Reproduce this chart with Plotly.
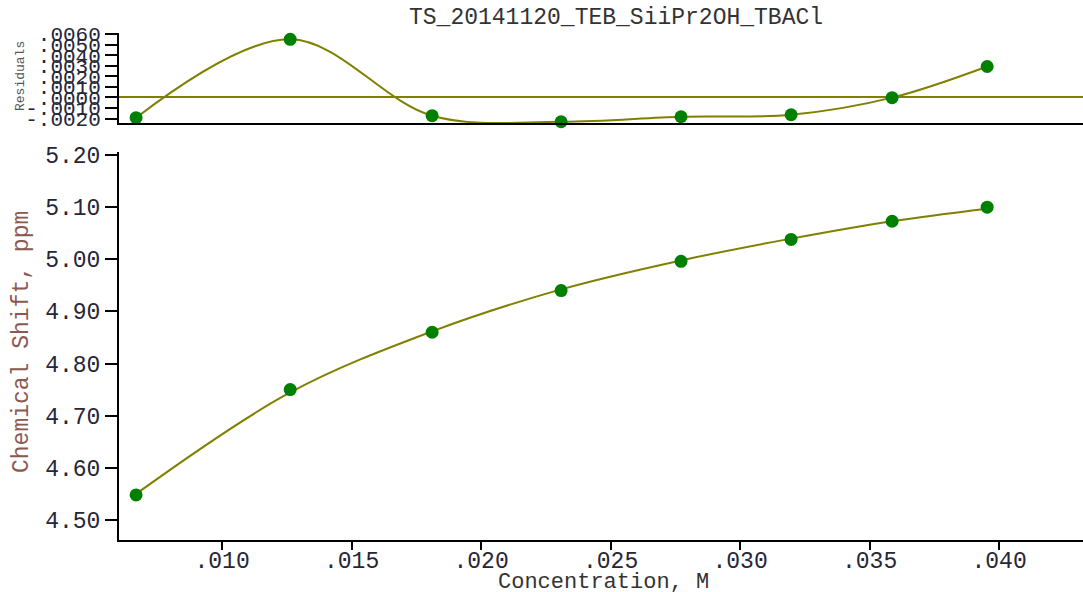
import plotly.graph_objects as go

# ---- data ----
concentration = [0.00668, 0.01263, 0.01811, 0.02309, 0.02772, 0.03197, 0.03587, 0.03954]
chemical_shift = [4.548, 4.750, 4.860, 4.940, 4.996, 5.038, 5.073, 5.100]
residuals = [-0.00192, 0.00550, -0.00173, -0.00230, -0.00183, -0.00164, -0.00002, 0.00293]
fit_shift = [s - r for s, r in zip(chemical_shift, residuals)]

x_tickvals = [0.010, 0.015, 0.020, 0.025, 0.030, 0.035, 0.040]
x_ticktext = [".010", ".015", ".020", ".025", ".030", ".035", ".040"]
y_tickvals = [4.50, 4.60, 4.70, 4.80, 4.90, 5.00, 5.10, 5.20]
y_ticktext = ["4.50", "4.60", "4.70", "4.80", "4.90", "5.00", "5.10", "5.20"]
r_tickvals = [-0.002, -0.001, 0.0, 0.001, 0.002, 0.003, 0.004, 0.005, 0.006]
r_ticktext = ["-.0020", "-.0010", ".0000", ".0010", ".0020", ".0030", ".0040", ".0050", ".0060"]

title_text = "TS_20141120_TEB_SiiPr2OH_TBACl"
x_title = "Concentration, M"
y_title = "Chemical Shift, ppm"
r_title = "Residuals"

LINE = "#808000"
MARK = "#008000"
FONT = "Liberation Mono"
TICKCOL = "#262636"

W, H = 1083, 592

def py(px):
    return 1 - px / H

fig = go.Figure()

# main plot
fig.add_trace(go.Scatter(x=concentration, y=fit_shift, mode="lines",
                         line=dict(color=LINE, width=2, shape="spline"),
                         xaxis="x", yaxis="y", showlegend=False))
fig.add_trace(go.Scatter(x=concentration, y=chemical_shift, mode="markers",
                         marker=dict(color=MARK, size=13),
                         xaxis="x", yaxis="y", showlegend=False))
# residual plot
fig.add_trace(go.Scatter(x=concentration, y=residuals, mode="lines",
                         line=dict(color=LINE, width=2, shape="spline"),
                         xaxis="x2", yaxis="y2", showlegend=False))
fig.add_trace(go.Scatter(x=concentration, y=residuals, mode="markers",
                         marker=dict(color=MARK, size=13),
                         xaxis="x2", yaxis="y2", showlegend=False, cliponaxis=False))

tickfont = dict(family=FONT, size=23, color=TICKCOL)
xrange = [0.00602, 0.04324]
xdom = [119 / W, 1.0]

fig.update_layout(
    width=W, height=H,
    margin=dict(l=0, r=0, t=0, b=0, autoexpand=False),
    paper_bgcolor="white", plot_bgcolor="white",
    xaxis=dict(domain=xdom, range=xrange, tickvals=x_tickvals, ticktext=x_ticktext,
               showgrid=False, zeroline=False, showline=True, linecolor="black",
               linewidth=2, ticks="outside", ticklen=8, tickwidth=2, tickcolor="black",
               tickfont=tickfont, anchor="y", automargin=False, ticklabelstandoff=-10),
    yaxis=dict(domain=[py(540), py(152)], range=[4.4615, 5.2058],
               tickvals=y_tickvals, ticktext=y_ticktext,
               showgrid=False, zeroline=False, showline=True, linecolor="black",
               linewidth=2, ticks="outside", ticklen=12, tickwidth=2, tickcolor="black",
               tickfont=tickfont, anchor="x", automargin=False),
    xaxis2=dict(domain=xdom, range=xrange, showticklabels=False, ticks="",
                showgrid=False, zeroline=False, showline=True, linecolor="black",
                linewidth=2, anchor="y2", matches="x", automargin=False),
    yaxis2=dict(domain=[py(123), py(33)], range=[-0.00242, 0.0061],
                tickvals=r_tickvals, ticktext=r_ticktext,
                showgrid=False, zeroline=True, zerolinecolor=LINE, zerolinewidth=2,
                showline=True, linecolor="black", linewidth=2, ticks="outside",
                ticklen=12, tickwidth=2, tickcolor="black",
                tickfont=dict(family=FONT, size=21, color=TICKCOL), anchor="x2",
                automargin=False),
    annotations=[
        dict(text=title_text, x=616 / W, y=py(18), xref="paper", yref="paper",
             showarrow=False, font=dict(family=FONT, size=23, color="#333333"),
             xanchor="center", yanchor="middle"),
        dict(text=x_title, x=603 / W, y=py(582), xref="paper", yref="paper",
             showarrow=False, font=dict(family=FONT, size=22, color="#333333"),
             xanchor="center", yanchor="middle"),
        dict(text=y_title, x=22 / W, y=py(342), xref="paper", yref="paper",
             showarrow=False, textangle=-90,
             font=dict(family=FONT, size=23, color="#8a5a50"),
             xanchor="center", yanchor="middle"),
        dict(text=r_title, x=20 / W, y=py(76), xref="paper", yref="paper",
             showarrow=False, textangle=-90,
             font=dict(family=FONT, size=13, color="#555555"),
             xanchor="center", yanchor="middle"),
    ],
)

fig.write_html("out.html", config={"displayModeBar": False},
               post_script="document.body.style.margin='0px';document.body.style.overflow='hidden';")
